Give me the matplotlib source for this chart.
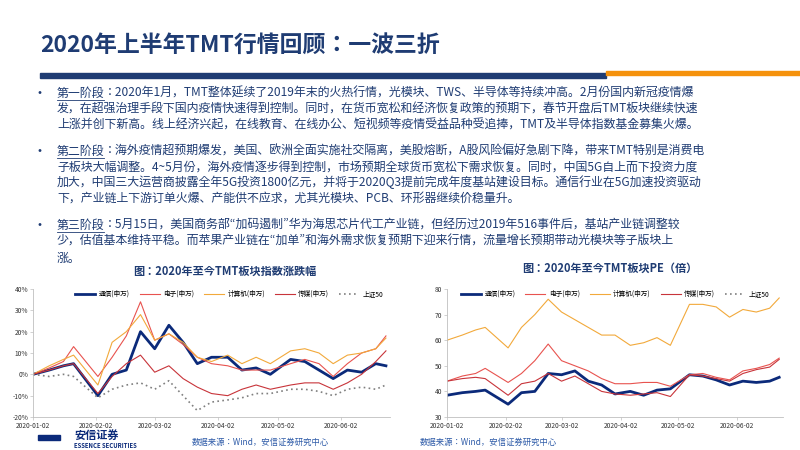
import matplotlib
matplotlib.use("Agg")
import matplotlib.pyplot as plt
import matplotlib.dates as mdates
from matplotlib import font_manager
import pandas as pd

cands = sorted(set(f.name for f in font_manager.fontManager.ttflist if 'Sans CJK' in f.name or 'Sans SC' in f.name))
pref = [n for n in ['Noto Sans CJK SC', 'Noto Sans CJK JP', 'Noto Sans CJK TC', 'Noto Sans CJK KR'] if n in cands]
cjk = pref[0] if pref else (cands[0] if cands else 'DejaVu Sans')
plt.rcParams['font.family'] = [cjk, 'DejaVu Sans']
plt.rcParams['axes.unicode_minus'] = False

dates = pd.to_datetime(["2020-01-02","2020-01-10","2020-01-17","2020-01-22","2020-02-03","2020-02-10",
    "2020-02-17","2020-02-24","2020-03-02","2020-03-09","2020-03-16","2020-03-23","2020-03-30",
    "2020-04-07","2020-04-14","2020-04-21","2020-04-28","2020-05-08","2020-05-15","2020-05-22",
    "2020-05-29","2020-06-05","2020-06-12","2020-06-19","2020-06-24"])

# 涨跌幅 (%)
chg_tongxin = [0,2,4,5,-10,0,2,20,12,23,15,5,8,8,2,3,0,7,6,2,-2,2,1,5,4]
chg_dianzi = [0,3,6,13,-1,8,18,34,16,19,14,8,5,4,2,2,2,5,7,5,-1,5,10,12,18]
chg_jisuanji = [0,4,7,9,-5,15,20,28,16,19,15,8,6,9,5,8,5,11,12,10,5,9,10,12,17]
chg_chuanmei = [0,2,4,5,-9,-1,5,9,1,4,-2,-6,-9,-10,-7,-5,-7,-5,-4,-4,-7,-4,0,6,11]
chg_sz50 = [0,-1,0,-1,-11,-7,-5,-4,-7,-3,-10,-17,-13,-12,-11,-9,-9,-7,-7,-8,-10,-7,-6,-7,-5]

# PE (倍)
pe_tongxin = [38.5,39.5,40,40.5,35,39.5,40,47,46.5,48,44,42.5,39,40,38.5,40.5,41,46.5,46,44.5,42.5,44,43.5,44,45.5]
pe_dianzi = [44,46,47,49,43.5,47,52,58.5,52,50,48,45,43,43,43.5,43.5,42,46.5,47,45.5,44.5,48,49,50.5,53]
pe_jisuanji = [60,62,64,65,57,65,70,76,71,68,65,62,62,58,59,61,58,74,74,73,69,72,71,72.5,76.5]
pe_chuanmei = [44,45,45.5,45,38.5,43,44,47,44,46,43,40,39,38.5,39,39.5,38,46.5,46,45,44,47,48.5,49.5,52.5]

names = ["通信(申万)","电子(申万)","计算机(申万)","传媒(申万)","上证50"]
xticks = pd.to_datetime(["2020-01-02","2020-02-02","2020-03-02","2020-04-02","2020-05-02","2020-06-02"])

NAVY = "#1F3C73"
BLUE = "#0B2A7A"
RED1 = "#E8534F"
ORANGE = "#F2A93B"
RED2 = "#C8343A"
GRAY = "#7F7F7F"

fig = plt.figure(figsize=(8, 4.5), dpi=100)
W, H = 800, 450
def fx(x): return x / W
def fy(y): return 1 - y / H

fig.text(fx(40), fy(46), "2020年上半年TMT行情回顾：一波三折", fontsize=16.5, fontweight='bold',
         color=NAVY, va='center', ha='left')
fig.add_artist(plt.Rectangle((fx(40), fy(78)), fx(566), 5/H, color=NAVY, transform=fig.transFigure))
fig.add_artist(plt.Rectangle((fx(606), fy(75)), fx(194), 4/H, color="#F5920C", transform=fig.transFigure))

paras = [
    (93, 16, "第一阶段", ["：2020年1月，TMT整体延续了2019年末的火热行情，光模块、TWS、半导体等持续冲高。2月份国内新冠疫情爆",
                 "发，在超强治理手段下国内疫情快速得到控制。同时，在货币宽松和经济恢复政策的预期下，春节开盘后TMT板块继续快速",
                 "上涨并创下新高。线上经济兴起，在线教育、在线办公、短视频等疫情受益品种受追捧，TMT及半导体指数基金募集火爆。"]),
    (151, 15.8, "第二阶段", ["：海外疫情超预期爆发，美国、欧洲全面实施社交隔离，美股熔断，A股风险偏好急剧下降，带来TMT特别是消费电",
                 "子板块大幅调整。4~5月份，海外疫情逐步得到控制，市场预期全球货币宽松下需求恢复。同时，中国5G自上而下投资力度",
                 "加大，中国三大运营商披露全年5G投资1800亿元，并将于2020Q3提前完成年度基站建设目标。通信行业在5G加速投资驱动",
                 "下，产业链上下游订单火爆、产能供不应求，尤其光模块、PCB、环形器继续价稳量升。"]),
    (225, 16.5, "第三阶段", ["：5月15日，美国商务部“加码遏制”华为海思芯片代工产业链，但经历过2019年516事件后，基站产业链调整较",
                 "少，估值基本维持平稳。而苹果产业链在“加单”和海外需求恢复预期下迎来行情，流量增长预期带动光模块等子版块上",
                 "涨。"]),
]
fs = 8.6
for y0, sp, label, lines in paras:
    fig.text(fx(38), fy(y0), "•", fontsize=fs, color=NAVY, va='center')
    fig.text(fx(57), fy(y0), label, fontsize=fs, color=NAVY, va='center')
    fig.add_artist(plt.Line2D([fx(57), fx(104)], [fy(y0 + 7), fy(y0 + 7)], color=NAVY, lw=0.6))
    for i, ln in enumerate(lines):
        if i == 0:
            fig.text(fx(104), fy(y0), ln, fontsize=fs, color=NAVY, va='center')
        else:
            fig.text(fx(57), fy(y0 + sp * i), ln, fontsize=fs, color=NAVY, va='center')

fig.text(fx(225), fy(271), "图：2020年至今TMT板块指数涨跌幅", fontsize=8, fontweight='bold', color=NAVY, ha='center', va='center')
fig.text(fx(610), fy(268), "图：2020年至今TMT板块PE（倍）", fontsize=8, fontweight='bold', color=NAVY, ha='center', va='center')

def style(ax):
    for s in ['top', 'right']:
        ax.spines[s].set_visible(False)
    for s in ['left', 'bottom']:
        ax.spines[s].set_color("#BFBFBF")
        ax.spines[s].set_linewidth(0.6)
    ax.tick_params(labelsize=4.8, length=2, width=0.5, color="#BFBFBF", labelcolor="#333333", pad=1.5)
    ax.set_xticks(xticks)
    ax.xaxis.set_major_formatter(mdates.DateFormatter("%Y-%m-%d"))
    ax.set_xlim(pd.Timestamp("2020-01-02"), pd.Timestamp("2020-06-26"))

ax1 = fig.add_axes([fx(33), fy(417), fx(357), (417 - 289) / H])
ax1.plot(dates, chg_tongxin, color=BLUE, lw=2, label=names[0])
ax1.plot(dates, chg_dianzi, color=RED1, lw=0.8, label=names[1])
ax1.plot(dates, chg_jisuanji, color=ORANGE, lw=0.8, label=names[2])
ax1.plot(dates, chg_chuanmei, color=RED2, lw=0.8, label=names[3])
ax1.plot(dates, chg_sz50, color=GRAY, lw=1.2, ls=(0, (1, 2)), label=names[4])
ax1.set_ylim(-20, 40)
ax1.set_yticks(range(-20, 41, 10))
ax1.set_yticklabels([f"{v}%" for v in range(-20, 41, 10)])
style(ax1)
ax1.legend(loc='upper center', bbox_to_anchor=(0.55, 1.04), ncol=5, fontsize=4.8, frameon=False,
           handlelength=3, columnspacing=1.5, handletextpad=0.5)

ax2 = fig.add_axes([fx(447), fy(417), fx(336), (417 - 289) / H])
ax2.plot(dates, pe_tongxin, color=BLUE, lw=2, label=names[0])
ax2.plot(dates, pe_dianzi, color=RED1, lw=0.8, label=names[1])
ax2.plot(dates, pe_jisuanji, color=ORANGE, lw=0.8, label=names[2])
ax2.plot(dates, pe_chuanmei, color=RED2, lw=0.8, label=names[3])
ax2.plot([], [], color=GRAY, lw=1.2, ls=(0, (1, 2)), label=names[4])
ax2.set_ylim(30, 80)
ax2.set_yticks(range(30, 81, 10))
style(ax2)
ax2.legend(loc='upper center', bbox_to_anchor=(0.5, 1.04), ncol=5, fontsize=4.8, frameon=False,
           handlelength=3, columnspacing=1.5, handletextpad=0.5)

# footer
fig.add_artist(plt.Rectangle((fx(38), fy(440)), fx(22), 5/H, color=BLUE, transform=fig.transFigure))
fig.text(fx(74), fy(435), "安信证券", fontsize=8, color=BLUE, va='center', fontweight='bold')
fig.text(fx(74), fy(446), "ESSENCE SECURITIES", fontsize=4.3, color=BLUE, va='center', fontweight='bold')
fig.text(fx(192), fy(442), "数据来源：Wind，安信证券研究中心", fontsize=6, color="#2E5BA8", va='center', style='italic')
fig.text(fx(420), fy(442), "数据来源：Wind，安信证券研究中心", fontsize=6, color="#2E5BA8", va='center', style='italic')

fig.savefig("out.png", dpi=100)
